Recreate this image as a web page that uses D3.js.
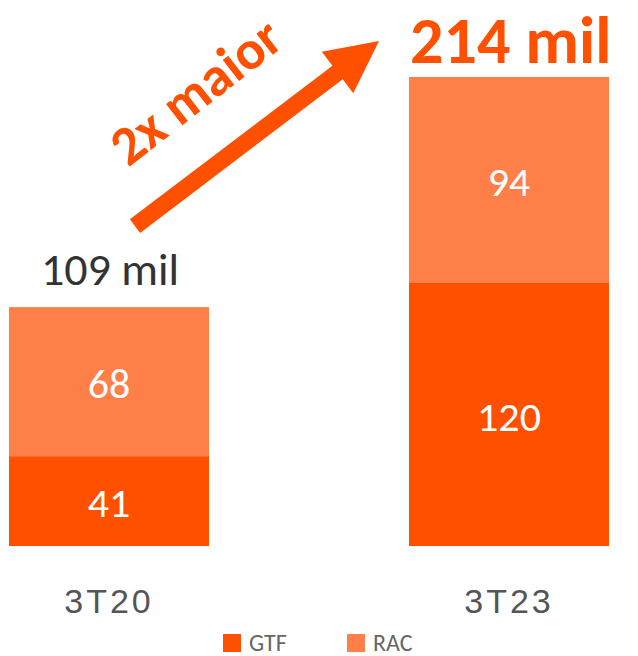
<!DOCTYPE html>
<html>
<head>
<meta charset="utf-8">
<script src="https://cdn.jsdelivr.net/npm/d3@7"></script>
<style>
  html, body { margin: 0; padding: 0; background: #fff; }
  svg { display: block; font-family: Carlito, Lato, "Open Sans", sans-serif; }
</style>
</head>
<body>
<svg id="chart" width="638" height="656"></svg>
<script>
// Quarterly totals (thousands), split by segment
const categories = ["3T20", "3T23"];
const gtf = [41, 120];
const rac = [68, 94];
const totalLabels = ["109 mil", "214 mil"];
const seriesNames = ["GTF", "RAC"];
const seriesColors = ["#FF5000", "#FF7F48"];
const growthText = "2x maior";

const svg = d3.select("#chart");

const rows = categories.map((c, i) => ({ cat: c, GTF: gtf[i], RAC: rac[i] }));
const stacked = d3.stack().keys(seriesNames)(rows);

const x = d3.scaleBand().domain(categories).range([9, 609]).paddingInner(0.5).paddingOuter(0);
const y = d3.scaleLinear().domain([0, d3.max(rows, r => r.GTF + r.RAC)]).range([546, 77]);
const color = d3.scaleOrdinal().domain(seriesNames).range(seriesColors);

// Stacked bars
const layers = svg.append("g").selectAll("g").data(stacked).join("g")
  .attr("fill", d => color(d.key));

layers.selectAll("rect").data(d => d.map(v => ({ key: d.key, v }))).join("rect")
  .attr("x", d => x(d.v.data.cat))
  .attr("width", x.bandwidth())
  .attr("y", d => y(d.v[1]))
  .attr("height", d => y(d.v[0]) - y(d.v[1]));

// Segment values
layers.selectAll("text").data(d => d.map(v => ({ key: d.key, v }))).join("text")
  .attr("x", d => x(d.v.data.cat) + x.bandwidth() / 2)
  .attr("y", d => (y(d.v[0]) + y(d.v[1])) / 2 + 16)
  .attr("text-anchor", "middle")
  .attr("fill", "#fff")
  .attr("font-size", 42)
  .text(d => d.v[1] - d.v[0]);

// Category axis (labels only)
const xAxis = svg.append("g")
  .attr("transform", "translate(0,546)")
  .call(d3.axisBottom(x).tickSize(0).tickPadding(0));
xAxis.select(".domain").remove();
xAxis.selectAll("text")
  .attr("y", 67)
  .attr("dy", null)
  .attr("font-family", null)
  .attr("font-size", 34)
  .attr("letter-spacing", 3)
  .attr("fill", "#555");

// Totals above bars
const totals = rows.map(r => r.GTF + r.RAC);
svg.append("text")
  .attr("x", x(categories[0]) + x.bandwidth() / 2 + 1)
  .attr("y", y(totals[0]) - 22)
  .attr("text-anchor", "middle")
  .attr("font-size", 46)
  .attr("fill", "#333")
  .text(totalLabels[0]);

svg.append("text")
  .attr("x", x(categories[1]) + 1)
  .attr("y", y(totals[1]) - 14)
  .attr("text-anchor", "start")
  .attr("font-size", 66)
  .attr("font-weight", "bold")
  .attr("fill", "#FF5000")
  .text(totalLabels[1]);

// Growth arrow from the first total towards the second
const tail = [x(categories[0]) + 126, y(totals[0]) - 81];
const tip = [x(categories[1]) - 30, y(totals[1]) - 36];
const dx = tip[0] - tail[0], dy = tip[1] - tail[1];
const len = Math.hypot(dx, dy);
const ux = dx / len, uy = dy / len;     // along the arrow
const px = -uy, py = ux;                // perpendicular
const shaftW = 17, headLen = 52, headW = 52;
const base = [tip[0] - ux * headLen, tip[1] - uy * headLen];
const pt = (p, s) => [p[0] + px * s, p[1] + py * s];
const arrowPts = [
  pt(tail, -shaftW / 2),
  pt(base, -shaftW / 2),
  pt(base, -headW / 2),
  tip,
  pt(base, headW / 2),
  pt(base, shaftW / 2),
  pt(tail, shaftW / 2)
];
svg.append("path")
  .attr("d", d3.line()(arrowPts) + "Z")
  .attr("fill", "#FF5000");

svg.append("text")
  .attr("transform", `translate(${tail[0] + 72},${tail[1] - 120}) rotate(-38)`)
  .attr("text-anchor", "middle")
  .attr("font-size", 55)
  .attr("font-weight", "bold")
  .attr("fill", "#FF5000")
  .text(growthText);

// Legend
const legend = svg.append("g").selectAll("g").data(seriesNames).join("g")
  .attr("transform", (d, i) => `translate(${223 + i * 124},634)`);
legend.append("rect").attr("width", 18).attr("height", 18).attr("fill", d => color(d));
legend.append("text")
  .attr("x", 26).attr("y", 17)
  .attr("font-size", 24)
  .attr("fill", "#666")
  .text(d => d);
</script>
</body>
</html>
